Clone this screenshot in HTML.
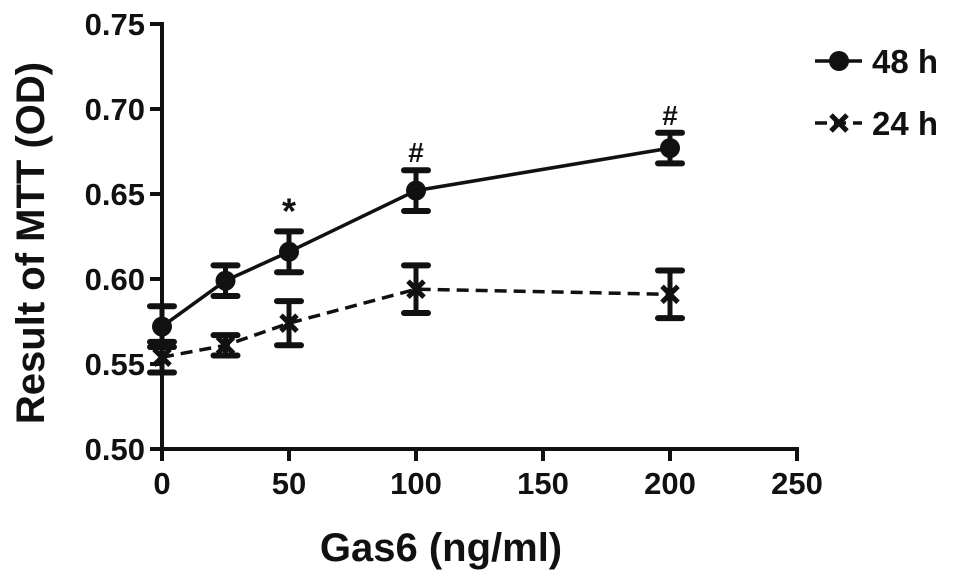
<!DOCTYPE html>
<html><head><meta charset="utf-8"><style>
body{margin:0;background:#fff;}
svg text{font-family:"Liberation Sans",Arial,sans-serif;font-weight:bold;fill:#111;}
</style></head><body>
<svg id="chart" width="969" height="579" viewBox="0 0 969 579" xmlns="http://www.w3.org/2000/svg"></svg>
<script>
const xValues=[0,25,50,100,200];
const series48=[0.572,0.599,0.616,0.652,0.677];
const err48=[0.012,0.009,0.012,0.012,0.009];
const series24=[0.554,0.561,0.574,0.594,0.591];
const err24=[0.009,0.006,0.013,0.014,0.014];
const marks48=["","","*","#","#"];
const yTicks=[0.50,0.55,0.60,0.65,0.70,0.75];
const xTicks=[0,50,100,150,200,250];

const svg=document.getElementById('chart');
const NS='http://www.w3.org/2000/svg';
const X=v=>162+v*(797-162)/250;
const Y=v=>449-(v-0.5)*(449-24)/0.25;
function mk(tag,attrs,parent){const e=document.createElementNS(NS,tag);for(const k in attrs)e.setAttribute(k,attrs[k]);(parent||svg).appendChild(e);return e;}

let a=mk('line',{x1:162,y1:22,x2:162,y2:451,stroke:'#111','stroke-width':4});


a=mk('line',{x1:160,y1:449,x2:799,y2:449,stroke:'#111','stroke-width':4});


yTicks.forEach(t=>{
  const l=mk('line',{x1:150,y1:Y(t),x2:162,y2:Y(t),stroke:'#111','stroke-width':4});
  
  
  const tx=mk('text',{x:145,y:Y(t)+11,'text-anchor':'end','font-size':31});
  tx.textContent=t.toFixed(2);
  
  
});
xTicks.forEach(t=>{
  const l=mk('line',{x1:X(t),y1:449,x2:X(t),y2:461,stroke:'#111','stroke-width':4});
  
  
  const tx=mk('text',{x:X(t),y:494,'text-anchor':'middle','font-size':31});
  tx.textContent=t;
  
  
});
let t=mk('text',{x:441,y:561,'text-anchor':'middle','font-size':40});
t.textContent='Gas6 (ng/ml)';


t=mk('text',{x:0,y:0,'text-anchor':'middle','font-size':40,transform:'translate(44,243) rotate(-90)'});
t.textContent='Result of MTT (OD)';



function drawSeries(vals,errs,dash,marker,name){
  const pts=xValues.map((x,i)=>X(x)+','+Y(vals[i])).join(' ');
  const pl=mk('polyline',{points:pts,fill:'none',stroke:'#111','stroke-width':3.5,'stroke-dasharray':dash});
  
  
  xValues.forEach((x,i)=>{
    const cx=X(x),y1=Y(vals[i]+errs[i]),y2=Y(vals[i]-errs[i]);
    const g=mk('g',{});
    
    
    mk('line',{x1:cx,y1:y1,x2:cx,y2:y2,stroke:'#111','stroke-width':5},g);
    mk('line',{x1:cx-12,y1:y1,x2:cx+12,y2:y1,stroke:'#111','stroke-width':6,'stroke-linecap':'round'},g);
    mk('line',{x1:cx-12,y1:y2,x2:cx+12,y2:y2,stroke:'#111','stroke-width':6,'stroke-linecap':'round'},g);
    const cy=Y(vals[i]);
    let m;
    if(marker==='circle'){m=mk('circle',{cx:cx,cy:cy,r:10,fill:'#111'});}
    else{m=mk('path',{d:`M${cx-8} ${cy-8}L${cx+8} ${cy+8}M${cx+8} ${cy-8}L${cx-8} ${cy+8}`,stroke:'#111','stroke-width':5});}
    
    
  });
}
drawSeries(series24,err24,'12,7','x','series-24h');
drawSeries(series48,err48,'none','circle','series-48h');
xValues.forEach((x,i)=>{
  if(!marks48[i])return;
  const s=mk('text',{x:X(x),y:Y(series48[i]+err48[i])-8,'text-anchor':'middle','font-size':marks48[i]==='*'?36:28,'font-weight':'normal'});
  s.textContent=marks48[i];
  
  
});

let g=mk('g',{});


mk('line',{x1:815,y1:61,x2:862,y2:61,stroke:'#111','stroke-width':3.5},g);
mk('circle',{cx:839,cy:61,r:10,fill:'#111'},g);
let lt=mk('text',{x:872,y:73,'font-size':33},g);lt.textContent='48 h';
g=mk('g',{});


mk('line',{x1:815,y1:123,x2:862,y2:123,stroke:'#111','stroke-width':3.5,'stroke-dasharray':'12,7'},g);
mk('path',{d:'M831 115L847 131M847 115L831 131',stroke:'#111','stroke-width':5},g);
lt=mk('text',{x:872,y:135,'font-size':33},g);lt.textContent='24 h';
</script>
</body></html>
